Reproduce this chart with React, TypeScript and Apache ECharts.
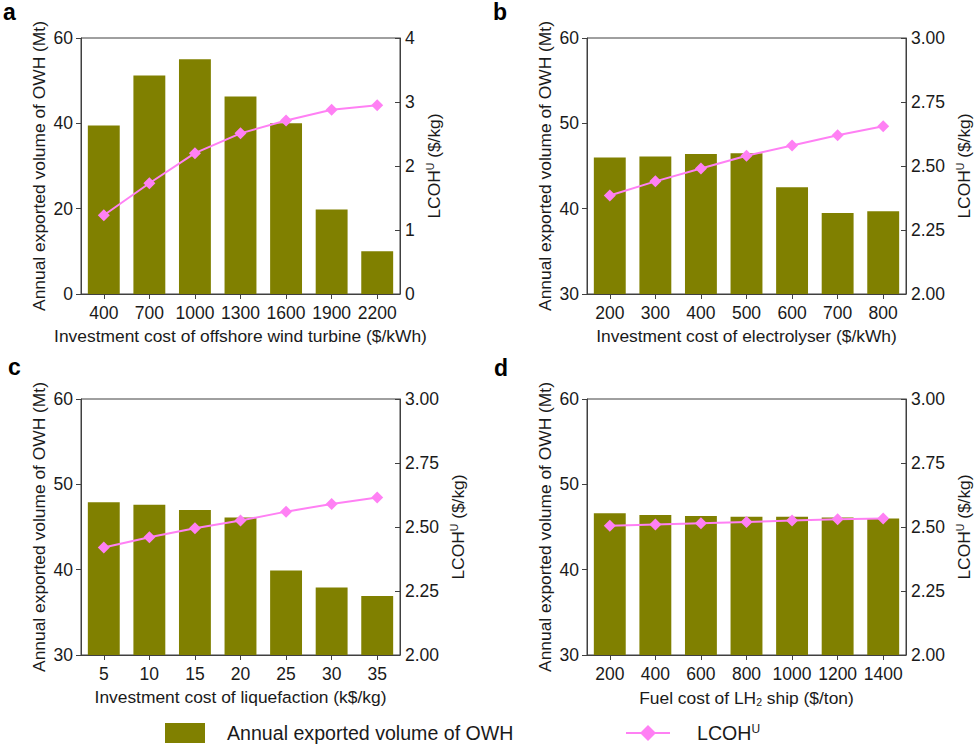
import { useEffect, useRef } from 'react';
import * as echarts from 'echarts';

const FONT = '"Liberation Sans", Arial, sans-serif';
const TEXT = '#1a1a1a';
const AXIS = '#404040';
const BAR = '#808000';
const LINE = '#ff80f4';

const BAR_NAME = 'Annual exported volume of OWH';
const LINE_NAME = 'LCOHU';
const LEFT_NAME = 'Annual exported volume of OWH (Mt)';
const RIGHT_NAME = '{n|LCOH}{sup|U}{n| ($/kg)}';

const catsA = ['400', '700', '1000', '1300', '1600', '1900', '2200'];
const barsA = [39.5, 51.2, 55, 46.3, 40, 19.8, 10];
const lineA = [1.23, 1.73, 2.2, 2.51, 2.71, 2.88, 2.95];

const catsB = ['200', '300', '400', '500', '600', '700', '800'];
const barsB = [46, 46.1, 46.4, 46.5, 42.5, 39.5, 39.7];
const lineB = [2.385, 2.44, 2.49, 2.54, 2.58, 2.62, 2.655];

const catsC = ['5', '10', '15', '20', '25', '30', '35'];
const barsC = [47.9, 47.6, 47.0, 46.1, 39.9, 37.9, 36.9];
const lineC = [2.42, 2.46, 2.495, 2.525, 2.56, 2.59, 2.615];

const catsD = ['200', '400', '600', '800', '1000', '1200', '1400'];
const barsD = [46.6, 46.4, 46.3, 46.2, 46.2, 46.1, 46.0];
const lineD = [2.505, 2.51, 2.515, 2.52, 2.525, 2.53, 2.533];

const panels = [
  { letter: 'a', letterLeft: 3, letterTop: 0, left: 81, top: 38, cats: catsA, bars: barsA, line: lineA, xName: 'Investment cost of offshore wind turbine ($/kWh)', y: [0, 60, 20], r: [0, 4, 1], rDigits: 0 },
  { letter: 'b', letterLeft: 493, letterTop: 0, left: 587, top: 38, cats: catsB, bars: barsB, line: lineB, xName: 'Investment cost of electrolyser ($/kWh)', y: [30, 60, 10], r: [2, 3, 0.25], rDigits: 2 },
  { letter: 'c', letterLeft: 8, letterTop: 355, left: 81, top: 399, cats: catsC, bars: barsC, line: lineC, xName: 'Investment cost of liquefaction (k$/kg)', y: [30, 60, 10], r: [2, 3, 0.25], rDigits: 2 },
  { letter: 'd', letterLeft: 494, letterTop: 356, left: 587, top: 399, cats: catsD, bars: barsD, line: lineD, xName: '{n|Fuel cost of LH}{sub|2}{n| ship ($/ton)}', y: [30, 60, 10], r: [2, 3, 0.25], rDigits: 2 },
];

const richName = {
  n: { fontFamily: FONT, fontSize: 17.4, color: TEXT },
  sup: { fontFamily: FONT, fontSize: 10.5, color: TEXT, verticalAlign: 'top', padding: [0, 0, 8, 0] },
  sub: { fontFamily: FONT, fontSize: 10.5, color: TEXT, verticalAlign: 'bottom', padding: [8, 0, 0, 0] },
};

export default function App() {
  const chartRef = useRef<HTMLDivElement>(null);

  useEffect(() => {
    if (!chartRef.current) return;
    const chart = echarts.init(chartRef.current, null, { renderer: 'svg' });

    const axisLine = { show: true, lineStyle: { color: AXIS, width: 1 } };
    const axisLabel = { color: TEXT, fontFamily: FONT, fontSize: 17.5 };
    const nameTextStyle = { color: TEXT, fontFamily: FONT, fontSize: 17.4, rich: richName };

    const option: echarts.EChartsOption = {
      animation: false,
      backgroundColor: '#ffffff',
      title: panels.map(p => ({
        text: p.letter,
        left: p.letterLeft,
        top: p.letterTop,
        padding: 0,
        textStyle: { fontFamily: FONT, fontSize: 23, fontWeight: 'bold', color: '#000000' },
      })),
      legend: [
        {
          data: [{ name: BAR_NAME, icon: 'rect' }],
          left: 165,
          top: 723,
          padding: 0,
          itemWidth: 40,
          itemHeight: 20,
          itemGap: 0,
          selectedMode: false,
          textStyle: { fontFamily: FONT, fontSize: 19.6, color: TEXT, padding: [0, 0, 0, 17] },
        },
        {
          data: [LINE_NAME],
          left: 625,
          top: 723,
          padding: 0,
          itemWidth: 44,
          itemHeight: 20,
          selectedMode: false,
          formatter: () => '{n|LCOH}{s|U}',
          textStyle: {
            fontFamily: FONT,
            fontSize: 19.6,
            color: TEXT,
            padding: [0, 0, 0, 22],
            rich: {
              n: { fontFamily: FONT, fontSize: 19.6, color: TEXT },
              s: { fontFamily: FONT, fontSize: 12, color: TEXT, verticalAlign: 'top', padding: [0, 0, 8, 0] },
            },
          },
        },
      ],
      grid: panels.map(p => ({
        left: p.left,
        top: p.top,
        width: 319,
        height: 256,
        show: true,
        borderColor: AXIS,
        borderWidth: 1,
        backgroundColor: 'transparent',
      })),
      xAxis: panels.map((p, i) => ({
        type: 'category',
        gridIndex: i,
        data: p.cats,
        name: p.xName,
        nameLocation: 'middle',
        nameGap: 33,
        nameTextStyle,
        axisLine,
        axisTick: { show: true, alignWithLabel: true, length: 5, lineStyle: { color: AXIS } },
        axisLabel: { ...axisLabel, margin: 10, interval: 0 },
      })),
      yAxis: panels.flatMap((p, i) => [
        {
          type: 'value',
          gridIndex: i,
          min: p.y[0],
          max: p.y[1],
          interval: p.y[2],
          name: LEFT_NAME,
          nameLocation: 'middle',
          nameRotate: 90,
          nameGap: 34,
          nameTextStyle,
          axisLine,
          axisTick: { show: true, length: 5, lineStyle: { color: AXIS } },
          axisLabel: { ...axisLabel, margin: 8 },
          splitLine: { show: false },
        },
        {
          type: 'value',
          gridIndex: i,
          position: 'right',
          min: p.r[0],
          max: p.r[1],
          interval: p.r[2],
          name: RIGHT_NAME,
          nameLocation: 'middle',
          nameRotate: 90,
          nameGap: p.rDigits ? 48 : 24,
          nameTextStyle,
          axisLine,
          axisTick: { show: true, inside: true, length: 5, lineStyle: { color: AXIS } },
          axisLabel: { ...axisLabel, margin: 5, formatter: (v: number) => v.toFixed(p.rDigits) },
          splitLine: { show: false },
        },
      ]),
      series: panels.flatMap((p, i) => [
        {
          name: BAR_NAME,
          type: 'bar',
          xAxisIndex: i,
          yAxisIndex: i * 2,
          data: p.bars,
          barWidth: '70%',
          itemStyle: { color: BAR },
        },
        {
          name: LINE_NAME,
          type: 'line',
          xAxisIndex: i,
          yAxisIndex: i * 2 + 1,
          data: p.line,
          symbol: 'diamond',
          symbolSize: 12,
          lineStyle: { color: LINE, width: 2 },
          itemStyle: { color: LINE },
        },
      ]) as echarts.SeriesOption[],
    };

    chart.setOption(option);
    return () => {
      chart.dispose();
    };
  }, []);

  return <div ref={chartRef} style={{ position: 'absolute', left: 0, top: 0, width: 975, height: 747 }} />;
}
